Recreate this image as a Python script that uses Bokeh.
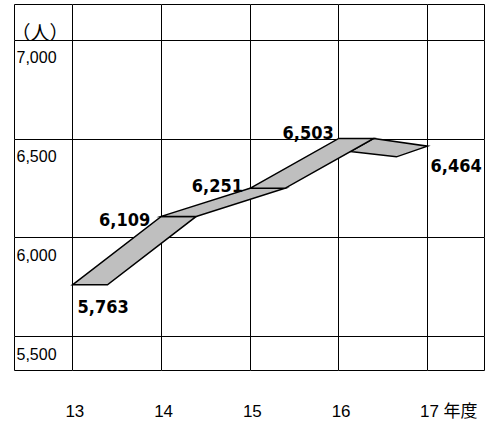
from bokeh.plotting import figure
from bokeh.models import Range1d, Grid, FixedTicker, ColumnDataSource, LinearAxis
from bokeh.core.properties import value
from bokeh.embed import file_html
from bokeh.resources import INLINE

# ---- data ----
years = [13, 14, 15, 16, 17]
x_labels = ["13", "14", "15", "16", "17 年度"]
counts = [5763, 6109, 6251, 6503, 6464]
count_labels = ["5,763", "6,109", "6,251", "6,503", "6,464"]
y_ticks = [5500, 6000, 6500, 7000]
y_tick_labels = ["5,500", "6,000", "6,500", "7,000"]
unit_label = "（人）"

# ---- styling / layout ----
X0, X1 = 12.3465, 17.642
Y0, Y1 = 5330, 7180
DEPTH = 0.394          # ribbon depth in x units
FILL = "#bfbfbf"
NB = "\u00a0"

p = figure(width=488, height=423,
           x_range=Range1d(X0, X1), y_range=Range1d(Y0, Y1),
           x_axis_location=None, y_axis_location=None,
           toolbar_location=None, output_backend="svg",
           min_border_left=14, min_border_right=4,
           min_border_top=4, min_border_bottom=49)
p.outline_line_color = "black"
p.outline_line_width = 1
p.background_fill_color = "white"
p.border_fill_color = "white"

gx = Grid(dimension=0, ticker=FixedTicker(ticks=years),
          grid_line_color="black", grid_line_width=1)
gy = Grid(dimension=1, ticker=FixedTicker(ticks=y_ticks),
          grid_line_color="black", grid_line_width=1)
p.add_layout(gx, "center")
p.add_layout(gy, "center")

# ---- x axis labels (below the frame) ----
overrides = {}
for yr, lab in zip(years, x_labels):
    if lab == x_labels[-1]:
        overrides[yr] = NB * 9 + lab
    else:
        overrides[yr] = NB + lab
xax = LinearAxis(ticker=FixedTicker(ticks=years), major_label_overrides=overrides,
                 axis_line_color=None, major_tick_line_color=None,
                 minor_tick_line_color=None, major_tick_in=0, major_tick_out=0,
                 major_label_standoff=31,
                 major_label_text_font="Liberation Sans, Noto Sans CJK JP",
                 major_label_text_font_size="17px",
                 major_label_text_color="black")
p.add_layout(xax, "below")

# ---- ribbon ----
xs, ys = [], []
# last (downward) segment first, so the previous one covers its left end
xs.append([years[3] + DEPTH, years[4], years[4] - 0.35, years[3] + 0.13])
ys.append([counts[3], counts[4], counts[4] - 54, counts[3] - 66])
for i in range(3):
    xs.append([years[i], years[i + 1], years[i + 1] + DEPTH, years[i] + DEPTH])
    ys.append([counts[i], counts[i + 1], counts[i + 1], counts[i]])
p.patches(xs, ys, fill_color=FILL, line_color="black", line_width=1.5,
          line_join="miter")

# ---- value labels ----
src = ColumnDataSource(dict(
    x=years, y=counts, t=count_labels,
    dx=[5, -11, -7, -5, 3],
    dy=[22, 3, -3, -6, 19],
    al=["left", "right", "right", "right", "left"],
))
p.text(x="x", y="y", text="t", source=src, x_offset="dx", y_offset="dy",
       text_align="al", text_baseline="alphabetic",
       text_font=value("DejaVu Sans Condensed"), text_font_style="bold",
       text_font_size="18px", text_color="black")

# ---- y tick labels inside the frame ----
p.text(x=[X0] * len(y_ticks), y=y_ticks, text=y_tick_labels,
       x_offset=2, y_offset=17, text_baseline="alphabetic",
       text_font=value("Liberation Sans"), text_font_size="16px",
       text_color="black")

# unit label
p.text(x=[X0], y=[Y1], text=[unit_label], x_offset=-3, y_offset=27,
       text_baseline="alphabetic", text_align="left",
       text_font=value("Noto Sans CJK JP"), text_font_size="19px",
       text_color="black")

open("out.html", "w").write(file_html(p, INLINE))
